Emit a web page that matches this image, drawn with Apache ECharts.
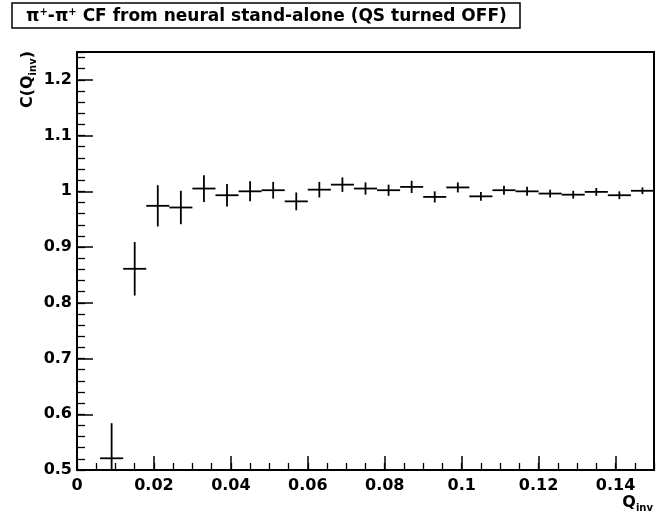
<!DOCTYPE html>
<html>
<head>
<meta charset="utf-8">
<script src="https://cdn.jsdelivr.net/npm/echarts@6/dist/echarts.min.js"></script>
<style>
html,body{margin:0;padding:0;background:#fff;}
#chart{width:671px;height:517px;}
</style>
</head>
<body>
<div id="chart"></div>
<script>
// ---- data ----
const qCenters = [0.009, 0.015, 0.021, 0.027, 0.033, 0.039, 0.045, 0.051, 0.057, 0.063, 0.069, 0.075,
                  0.081, 0.087, 0.093, 0.099, 0.105, 0.111, 0.117, 0.123, 0.129, 0.135, 0.141, 0.147];
const cfValues = [0.521, 0.861, 0.974, 0.971, 1.005, 0.993, 1.000, 1.002, 0.982, 1.003, 1.012, 1.005,
                  1.002, 1.008, 0.990, 1.007, 0.991, 1.002, 1.000, 0.996, 0.994, 0.999, 0.993, 1.001];
const cfErrors = [0.063, 0.048, 0.037, 0.030, 0.024, 0.020, 0.018, 0.015, 0.016, 0.014, 0.013, 0.011,
                  0.010, 0.011, 0.010, 0.009, 0.008, 0.008, 0.008, 0.007, 0.007, 0.007, 0.007, 0.006];
const binWidth = 0.006;
const xRange = [0, 0.15];
const yRange = [0.5, 1.25];

const FONT = 'DejaVu Sans';
const data = qCenters.map((q, i) => [q, cfValues[i], cfErrors[i]]);

const chart = echarts.init(document.getElementById('chart'), null, {renderer: 'canvas'});

const majorX = {
  type: 'value', min: xRange[0], max: xRange[1], interval: 0.02, position: 'bottom',
  axisLine: {show: true, onZero: false, lineStyle: {color: '#000', width: 2}},
  axisTick: {show: true, inside: true, length: 14, lineStyle: {color: '#000', width: 1.5}},
  axisLabel: {show: true, margin: 8, color: '#000', fontFamily: FONT, fontWeight: 'bold', fontSize: 16,
              showMaxLabel: false},
  splitLine: {show: false}
};
const minorX = {
  type: 'value', min: xRange[0], max: xRange[1], interval: 0.005, position: 'bottom',
  axisLine: {show: false}, axisLabel: {show: false}, splitLine: {show: false},
  axisTick: {show: true, inside: true, length: 7, lineStyle: {color: '#000', width: 1.3}}
};
const majorY = {
  type: 'value', min: yRange[0], max: yRange[1], interval: 0.1, position: 'left',
  axisLine: {show: true, onZero: false, lineStyle: {color: '#000', width: 2}},
  axisTick: {show: true, inside: true, length: 16, lineStyle: {color: '#000', width: 1.5}},
  axisLabel: {show: true, margin: 5, color: '#000', fontFamily: FONT, fontWeight: 'bold', fontSize: 16,
              showMaxLabel: false},
  splitLine: {show: false}
};
const minorY = {
  type: 'value', min: yRange[0], max: yRange[1], interval: 0.02, position: 'left',
  axisLine: {show: false}, axisLabel: {show: false}, splitLine: {show: false},
  axisTick: {show: true, inside: true, length: 8, lineStyle: {color: '#000', width: 1.3}}
};

chart.setOption({
  animation: false,
  backgroundColor: '#fff',
  title: {
    left: 12, top: 3,
    padding: [3, 13, 3, 14],
    borderColor: '#000', borderWidth: 1.5,
    text: '{t|π}{sp|+}{t|-π}{sp|+}{t| CF from neural stand-alone (QS turned OFF)}',
    textStyle: {
      rich: {
        t: {fontFamily: FONT, fontWeight: 'bold', fontSize: 17, color: '#000', lineHeight: 21, verticalAlign: 'middle'},
        sp: {fontFamily: FONT, fontWeight: 'bold', fontSize: 10, color: '#000', lineHeight: 21, verticalAlign: 'top', padding: [1, 0, 0, 0]}
      }
    }
  },
  grid: {left: 77, right: 17, top: 52, bottom: 47, show: true, borderColor: '#000', borderWidth: 2, backgroundColor: 'transparent'},
  xAxis: [majorX, minorX],
  yAxis: [majorY, minorY],
  graphic: [
    {
      type: 'text', x: 28, y: 51, rotation: Math.PI / 2,
      style: {
        text: '{a|C(Q}{s|inv}{a|)}', align: 'right', verticalAlign: 'middle',
        rich: {
          a: {fontFamily: FONT, fontWeight: 'bold', fontSize: 16, fill: '#000', lineHeight: 20, verticalAlign: 'middle'},
          s: {fontFamily: FONT, fontWeight: 'bold', fontSize: 10, fill: '#000', lineHeight: 12, verticalAlign: 'bottom'}
        }
      }
    },
    {
      type: 'text', x: 653, y: 503,
      style: {
        text: '{a|Q}{s|inv}', align: 'right', verticalAlign: 'middle',
        rich: {
          a: {fontFamily: FONT, fontWeight: 'bold', fontSize: 16, fill: '#000', lineHeight: 20, verticalAlign: 'middle'},
          s: {fontFamily: FONT, fontWeight: 'bold', fontSize: 10, fill: '#000', lineHeight: 12, verticalAlign: 'bottom'}
        }
      }
    }
  ],
  series: [{
    type: 'custom',
    xAxisIndex: 0, yAxisIndex: 0,
    clip: true,
    data: data,
    renderItem: function (params, api) {
      const x = api.value(0), y = api.value(1), e = api.value(2);
      const h1 = api.coord([x - binWidth / 2, y]);
      const h2 = api.coord([x + binWidth / 2, y]);
      const v1 = api.coord([x, y - e]);
      const v2 = api.coord([x, y + e]);
      const st = {stroke: '#000', lineWidth: 1.8};
      return {
        type: 'group',
        children: [
          {type: 'line', shape: {x1: h1[0], y1: h1[1], x2: h2[0], y2: h2[1]}, style: st},
          {type: 'line', shape: {x1: v1[0], y1: v1[1], x2: v2[0], y2: v2[1]}, style: st}
        ]
      };
    }
  }]
});
</script>
</body>
</html>
